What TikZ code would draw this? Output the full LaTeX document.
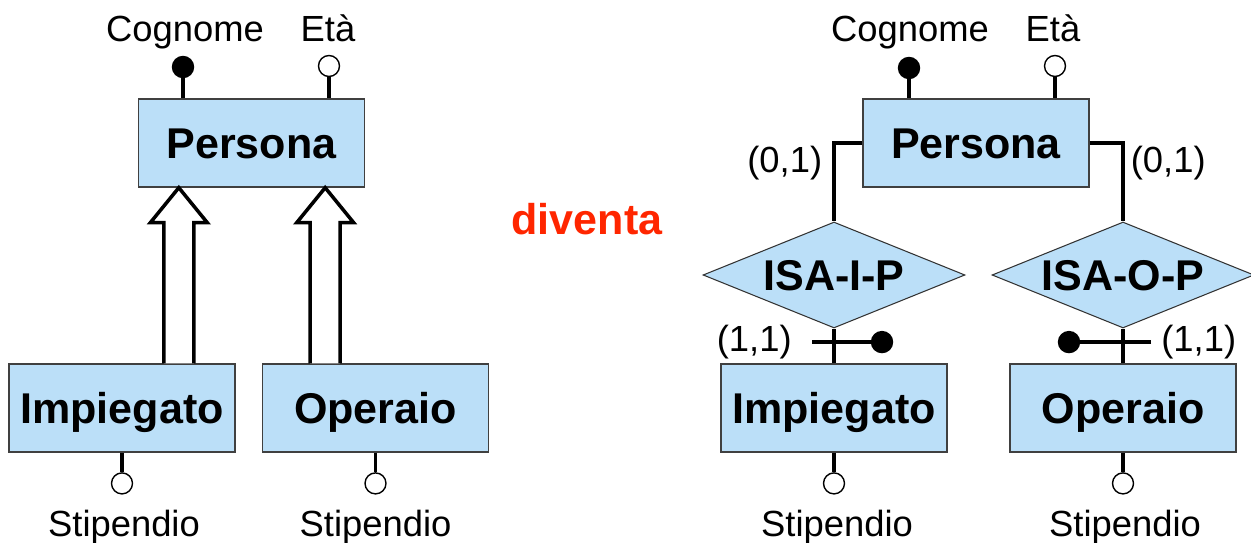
\documentclass[tikz,border=0pt]{standalone}
\usepackage{fontspec}
\setmainfont{Liberation Sans}
\usetikzlibrary{positioning,calc,shapes.geometric}

\definecolor{entityblue}{RGB}{187,223,248}
\definecolor{diventared}{RGB}{255,38,0}

\tikzset{
  entity/.style={draw=black!75, line width=0.8pt, fill=entityblue,
    minimum width=4.52cm, minimum height=1.76cm, inner sep=0pt,
    text height=17.5pt, text depth=0pt,
    font=\fontsize{24.5}{29}\selectfont\bfseries},
  relation/.style={diamond, draw=black!80, line width=0.6pt, fill=entityblue,
    aspect=2.47, minimum width=5.24cm, minimum height=2.12cm, inner sep=0pt,
    text height=17.5pt, text depth=0pt,
    font=\fontsize{24.5}{29}\selectfont\bfseries},
  attr/.style={circle, draw, line width=0.8pt, fill=white,
    minimum size=0.42cm, inner sep=0pt},
  keyattr/.style={attr, fill=black},
  attrtext/.style={font=\fontsize{20.7}{25}\selectfont, inner sep=0pt},
  link/.style={line width=2.1pt},
  isaarrow/.style={line width=2pt, fill=white},
}

% freccia di generalizzazione: #1 punta, #2 base
\newcommand{\fatarrow}[2]{%
  \draw[isaarrow] ($(#2)+(-15,0)$) -- ($(#1)+(-15,35)$) -- ($(#1)+(-28.5,35)$)
    -- (#1) -- ($(#1)+(28.5,35)$) -- ($(#1)+(15,35)$) -- ($(#2)+(15,0)$);}

\begin{document}
\begin{tikzpicture}[x=0.02cm, y=-0.02cm]
\useasboundingbox (0,0) rectangle (1251,543);

% schema con generalizzazione
\node[entity] (persL) at (251.5,143) {Persona};
\node[entity] (impL) at (122,408) {Impiegato};
\node[entity] (opL) at (375.5,408) {Operaio};

\node[keyattr] (cogL) at (183,67) {};
\node[attr] (etaL) at (329,66) {};
\draw[link] (cogL) -- (cogL |- persL.north);
\draw[link] (etaL) -- (etaL |- persL.north);
\node[attrtext, anchor=base] (cogLt) at (185,42) {Cognome};
\node[attrtext, anchor=base] (etaLt) at (328,42) {Età};

\coordinate (tipI) at ($(persL.south west)+(41,0)$);
\coordinate (tipO) at ($(persL.south east)+(-40,0)$);
\fatarrow{tipI}{tipI |- impL.north}
\fatarrow{tipO}{tipO |- opL.north}

\node[attr, below=0.39cm of impL] (stipLc) {};
\node[attr, below=0.39cm of opL] (stipOc) {};
\draw[link] (impL.south) -- (stipLc);
\draw[link] (opL.south) -- (stipOc);
\node[attrtext, anchor=base] (stipLt) at ($(stipLc)+(2,53)$) {Stipendio};
\node[attrtext, anchor=base] (stipOt) at ($(stipOc)+(0,53)$) {Stipendio};

\node[font=\fontsize{24.5}{29}\selectfont\bfseries, text=diventared, anchor=base]
  (diventa) at (587,235) {diventa};

% schema ristrutturato
\node[entity] (persR) at (976,143) {Persona};
\node[relation] (isaI) at (834,275) {ISA-I-P};
\node[relation] (isaO) at (1123,275) {ISA-O-P};
\node[entity] (impR) at (834,408) {Impiegato};
\node[entity] (opR) at (1123,408) {Operaio};

\node[keyattr] (cogR) at (909,68) {};
\node[attr] (etaR) at (1055,66) {};
\draw[link] (cogR) -- (cogR |- persR.north);
\draw[link] (etaR) -- (etaR |- persR.north);
\node[attrtext, anchor=base] (cogRt) at (910,42) {Cognome};
\node[attrtext, anchor=base] (etaRt) at (1053,42) {Età};

\draw[link] (persR.west) -| (isaI.north)
  node[attrtext, pos=0.625, left=0.2cm] (cardPI) {(0,1)};
\draw[link] (persR.east) -| (isaO.north)
  node[attrtext, pos=0.625, right=0.12cm] (cardPO) {(0,1)};

\draw[link] (isaI.south) -- (impR.north);
\draw[link] (isaO.south) -- (opR.north);
\coordinate (kI) at ($(isaI.south)!0.39!(impR.north)$);
\coordinate (kO) at ($(isaO.south)!0.39!(opR.north)$);
\node[keyattr] (idI) at ($(kI)+(48,0)$) {};
\node[keyattr] (idO) at ($(kO)+(-54,0)$) {};
\draw[link] ($(kI)+(-22,0)$) -- (idI);
\draw[link] ($(kO)+(28,0)$) -- (idO);
\node[attrtext, anchor=east] (cardI) at ($(kI)+(-42,0)$) {(1,1)};
\node[attrtext, anchor=west] (cardO) at ($(kO)+(38,0)$) {(1,1)};

\node[attr, below=0.39cm of impR] (stipRc) {};
\node[attr, below=0.39cm of opR] (stipSc) {};
\draw[link] (impR.south) -- (stipRc);
\draw[link] (opR.south) -- (stipSc);
\node[attrtext, anchor=base] (stipRt) at ($(stipRc)+(3,53)$) {Stipendio};
\node[attrtext, anchor=base] (stipSt) at ($(stipSc)+(2,53)$) {Stipendio};
\end{tikzpicture}
\end{document}
